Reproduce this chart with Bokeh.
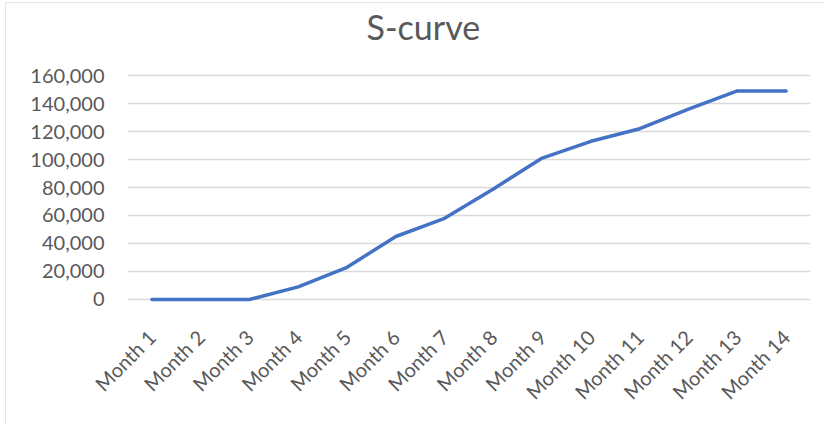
import math
from bokeh.plotting import figure
from bokeh.models import Range1d, FactorRange, NumeralTickFormatter, FixedTicker, Title
from bokeh.embed import file_html
from bokeh.resources import INLINE

# ---- data ----
months = ["Month 1", "Month 2", "Month 3", "Month 4", "Month 5", "Month 6", "Month 7",
          "Month 8", "Month 9", "Month 10", "Month 11", "Month 12", "Month 13", "Month 14"]
cumulative = [0, 0, 0, 9000, 23000, 45000, 58000, 79000, 101000, 113000, 122000,
              136000, 149000, 149000]
y_ticks = [0, 20000, 40000, 60000, 80000, 100000, 120000, 140000, 160000]
title_text = "S-curve"

TEXT = "#595959"
GRID = "#d9d9d9"
LINE = "#4472C4"
FONT = "Lato"

pad = 2143
p = figure(
    width=819, height=422,
    x_range=FactorRange(*months, range_padding=0),
    y_range=Range1d(-pad, 160000 + pad),
    output_backend="svg", toolbar_location=None,
    min_border_left=121, min_border_right=15,
    min_border_top=69, min_border_bottom=123,
)
p.styles = {"margin-left": "5px", "margin-top": "2px",
            "border-left": "1px solid #e6e6e6", "border-top": "1px solid #e6e6e6"}
p.outline_line_color = None
p.background_fill_color = "white"
p.border_fill_color = "white"

p.title.text = title_text
p.title.align = "left"
p.title.offset = 239
p.title.vertical_align = "top"
p.title.standoff = 4
p.title.text_font = FONT
p.title.text_font_size = "34px"
p.title.text_font_style = "normal"
p.title.text_color = TEXT

# empty spacer between the title and the plot frame
p.add_layout(Title(text=" ", text_font_size="1px", standoff=19), "above")

p.line(x=months, y=cumulative, line_color=LINE, line_width=3.5,
       line_join="round", line_cap="round")

# y axis
p.yaxis.ticker = FixedTicker(ticks=y_ticks)
p.yaxis.formatter = NumeralTickFormatter(format="0,0")
p.yaxis.axis_line_color = None
p.yaxis.major_tick_line_color = None
p.yaxis.minor_tick_line_color = None
p.yaxis.major_label_standoff = 17
p.yaxis.major_label_text_font = FONT
p.yaxis.major_label_text_font_size = "20px"
p.yaxis.major_label_text_color = TEXT

# x axis
p.xaxis.axis_line_color = None
p.xaxis.major_tick_line_color = None
p.xaxis.minor_tick_line_color = None
p.xaxis.major_label_orientation = math.pi / 4
p.xaxis.major_label_standoff = 25
p.xaxis.major_label_text_font = FONT
p.xaxis.major_label_text_font_size = "20px"
p.xaxis.major_label_text_color = TEXT

p.xgrid.grid_line_color = None
p.ygrid.ticker = FixedTicker(ticks=y_ticks)
p.ygrid.grid_line_color = GRID
p.ygrid.grid_line_width = 1.3

open("out.html", "w").write(file_html(p, INLINE))
